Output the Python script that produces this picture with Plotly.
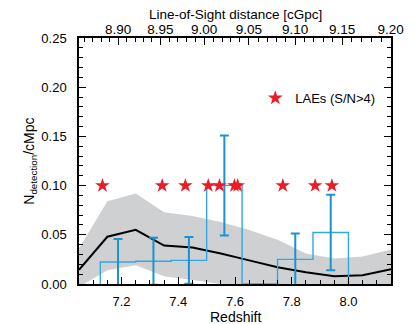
import numpy as np
import plotly.graph_objects as go

# ---- data ----
model_z = [7.05, 7.15, 7.25, 7.35, 7.45, 7.55, 7.65, 7.75, 7.85, 7.95, 8.05, 8.15]
model_mean = [0.0145, 0.048, 0.055, 0.039, 0.037, 0.031, 0.024, 0.017, 0.012, 0.008, 0.009, 0.015]
model_upper = [0.036, 0.084, 0.092, 0.073, 0.069, 0.063, 0.055, 0.045, 0.031, 0.026, 0.028, 0.035]
model_lower = [-0.003, 0.014, 0.019, 0.008, 0.004, 0.0, -0.003, -0.004, -0.006, -0.006, -0.005, -0.004]

bin_edges = [7.125, 7.25, 7.375, 7.50, 7.625, 7.75, 7.875, 8.00]
bin_values = [0.0224, 0.0231, 0.0240, 0.1002, 0.0, 0.0250, 0.0524]
bin_errors = [0.0233, 0.0239, 0.0238, 0.0508, 0.0, 0.0264, 0.0383]

lae_z = [7.1327, 7.3432, 7.425, 7.5057, 7.5452, 7.5982, 7.6095, 7.7685, 7.8826, 7.9416]
lae_level = [0.10] * len(lae_z)

dist_labels = ["8.90", "8.95", "9.00", "9.05", "9.10", "9.15", "9.20"]
dist_values = [8.90, 8.95, 9.00, 9.05, 9.10, 9.15, 9.20]
dist_tick_z = [7.188, 7.337, 7.491, 7.649, 7.812, 7.978, 8.149]

# ---- derived ----
hist_x = [bin_edges[0]] + bin_edges
hist_y = [0.0] + bin_values + [0.0]
centers = [(a + b) / 2 for a, b in zip(bin_edges[:-1], bin_edges[1:])]
eb_x = [c for c, v in zip(centers, bin_values) if v > 0]
eb_y = [v for v in bin_values if v > 0]
eb_e = [e for e, v in zip(bin_errors, bin_values) if v > 0]

# minor ticks of the distance axis every 0.01 cGpc
minor_d = np.round(np.arange(8.86, 9.2001, 0.01), 3)
minor_d = [d for d in minor_d if all(abs(d - m) > 1e-6 for m in dist_values)]
slope0 = (dist_tick_z[1] - dist_tick_z[0]) / (dist_values[1] - dist_values[0])
minor_z = []
for d in minor_d:
    if d < dist_values[0]:
        minor_z.append(dist_tick_z[0] + (d - dist_values[0]) * slope0)
    else:
        minor_z.append(float(np.interp(d, dist_values, dist_tick_z)))

FONT = "Liberation Sans, Arial, sans-serif"
BLUE_BAR = "#1b93d3"
BLUE_HIST = "#33a7e6"
RED = "#ec1c24"
GRAY = "#cfd0d2"

fig = go.Figure()
fig.add_trace(go.Scatter(x=model_z, y=model_lower, mode="lines", line=dict(width=0, color=GRAY),
                         showlegend=False, hoverinfo="skip"))
fig.add_trace(go.Scatter(x=model_z, y=model_upper, mode="lines", line=dict(width=0, color=GRAY),
                         fill="tonexty", fillcolor=GRAY, showlegend=False, hoverinfo="skip"))
fig.add_trace(go.Scatter(x=model_z, y=model_mean, mode="lines", line=dict(color="black", width=2),
                         showlegend=False))
fig.add_trace(go.Scatter(x=hist_x, y=hist_y, mode="lines", line=dict(color=BLUE_HIST, width=1.4, shape="hv"),
                         showlegend=False))
fig.add_trace(go.Scatter(x=eb_x, y=eb_y, mode="markers", marker=dict(color="rgba(0,0,0,0)", size=1),
                         error_y=dict(type="data", array=eb_e, visible=True, color=BLUE_BAR,
                                      thickness=2, width=4.5),
                         showlegend=False))
fig.add_trace(go.Scatter(x=lae_z, y=lae_level, mode="markers", xaxis="x2",
                         marker=dict(symbol="star", size=11, color=RED, line=dict(width=0)),
                         name="LAEs (S/N>4)", showlegend=True))

tick_common = dict(showgrid=False, zeroline=False, showline=True, linecolor="black", linewidth=1.5,
                   ticks="inside", ticklen=7, tickwidth=1.2, tickcolor="black", automargin=False)

# The page body has an 8px default margin; the figure is sized so the plot lands where the reference has it.
fig.update_layout(
    template="none",
    width=407, height=316,
    margin=dict(l=71, r=24, t=30, b=40, autoexpand=False),
    paper_bgcolor="white", plot_bgcolor="white",
    font=dict(family=FONT, size=13, color="black"),
    showlegend=True,
    legend=dict(x=0.565, y=0.756, xanchor="left", yanchor="middle", bgcolor="rgba(0,0,0,0)",
                font=dict(size=13), itemwidth=30, borderwidth=0),
    xaxis=dict(range=[7.05, 8.15], mirror=False,
               dtick=0.2, tick0=7.0, tickformat=".1f", ticklabelstandoff=5,
               minor=dict(dtick=0.05, tick0=7.0, ticks="inside", ticklen=4, tickcolor="black", tickwidth=1.2,
                          showgrid=False),
               **tick_common),
    xaxis2=dict(overlaying="x", side="top", range=[7.05, 8.15],
                tickmode="array", tickvals=dist_tick_z, ticktext=dist_labels, ticklabelstandoff=-3,
                tickfont=dict(size=13.5),
                minor=dict(tickvals=minor_z, ticks="inside", ticklen=4, tickcolor="black", tickwidth=1.2,
                           showgrid=False),
                **tick_common),
    yaxis=dict(range=[0, 0.25], mirror="ticks",
               dtick=0.05, tick0=0, tickformat=".2f", ticklabelstandoff=8,
               minor=dict(dtick=0.01, ticks="inside", ticklen=4, tickcolor="black", tickwidth=1.2,
                          showgrid=False),
               **tick_common),
    annotations=[
        dict(text="Redshift", xref="paper", yref="paper", x=0.5, y=-0.134, xanchor="center",
             yanchor="middle", showarrow=False, font=dict(size=14)),
        dict(text="Line-of-Sight distance [cGpc]", xref="paper", yref="paper", x=0.5, y=1.094,
             xanchor="center", yanchor="middle", showarrow=False, font=dict(size=13.5)),
        dict(text="N<sub>detection</sub>/cMpc", xref="paper", yref="paper", x=-0.158, y=0.5,
             xanchor="center", yanchor="middle", textangle=-90, showarrow=False, font=dict(size=14)),
    ],
)

fig.write_html("out.html")
